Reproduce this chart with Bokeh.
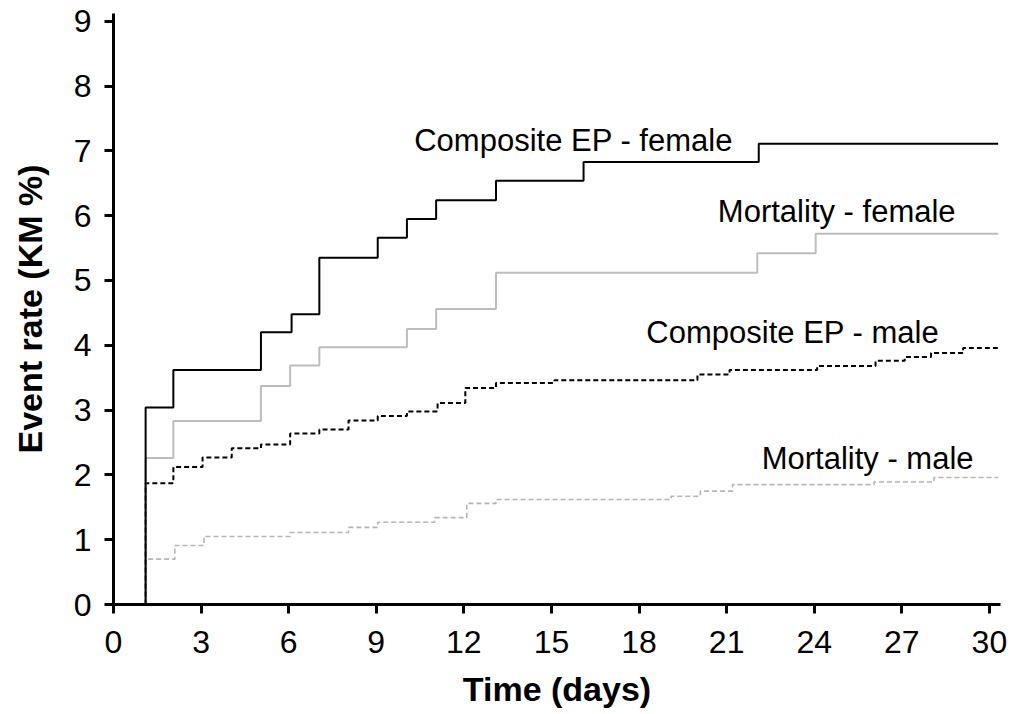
from bokeh.plotting import figure
from bokeh.models import Range1d, FixedTicker, Label
from bokeh.embed import file_html
from bokeh.resources import INLINE

# Kaplan-Meier event rates (%) at each step time (days)
comp_female_t = [0, 1.1, 2.05, 5.05, 6.1, 7.05, 9.05, 10.05, 11.05, 13.1, 16.1, 22.1, 30.3]
comp_female_v = [0, 3.04, 3.62, 4.20, 4.48, 5.35, 5.66, 5.95, 6.24, 6.54, 6.83, 7.11, 7.11]

mort_female_t = [0, 1.1, 2.05, 5.05, 6.05, 7.05, 10.05, 11.05, 13.1, 22.05, 24.05, 30.3]
mort_female_v = [0, 2.26, 2.83, 3.37, 3.69, 3.97, 4.25, 4.56, 5.12, 5.42, 5.72, 5.72]

comp_male_t = [0, 1.1, 2.05, 3.05, 4.05, 5.05, 6.05, 7.05, 8.05, 9.05, 10.05, 11.1,
               12.05, 13.1, 15.1, 20.0, 21.1, 24.1, 26.1, 27.1, 28.0, 29.1, 30.3]
comp_male_v = [0, 1.87, 2.12, 2.27, 2.41, 2.47, 2.64, 2.70, 2.84, 2.91, 2.98, 3.11,
               3.34, 3.42, 3.46, 3.55, 3.62, 3.68, 3.76, 3.82, 3.88, 3.96, 3.96]

mort_male_t = [0, 1.1, 2.1, 3.1, 6.05, 8.05, 9.05, 11.0, 12.1, 13.1, 19.1, 20.1, 21.2,
               26.05, 28.1, 30.3]
mort_male_v = [0, 0.70, 0.91, 1.05, 1.11, 1.19, 1.27, 1.34, 1.56, 1.62, 1.67, 1.75, 1.85,
               1.89, 1.96, 1.96]

x_ticks = [0, 3, 6, 9, 12, 15, 18, 21, 24, 27, 30]
y_ticks = [0, 1, 2, 3, 4, 5, 6, 7, 8, 9]

FONT = "Liberation Sans"

p = figure(width=1015, height=714, output_backend="svg", toolbar_location=None,
           x_range=Range1d(0, 30.38), y_range=Range1d(0, 9.12),
           min_border_left=113, min_border_right=15, min_border_top=13,
           min_border_bottom=110)
p.outline_line_color = None
p.grid.visible = False
p.background_fill_color = "white"
p.border_fill_color = "white"

for ax in (p.xaxis[0], p.yaxis[0]):
    ax.axis_line_width = 3
    ax.axis_line_color = "black"
    ax.major_tick_line_width = 3
    ax.major_tick_line_color = "black"
    ax.major_tick_out = 9
    ax.major_tick_in = 0
    ax.minor_tick_line_color = None
    ax.major_label_text_font = FONT
    ax.major_label_text_font_size = "32px"
    ax.major_label_text_color = "black"
    ax.axis_label_text_font = FONT
    ax.axis_label_text_font_style = "bold"
    ax.axis_label_text_font_size = "34px"
    ax.axis_label_text_color = "black"

p.xaxis.ticker = FixedTicker(ticks=x_ticks)
p.yaxis.ticker = FixedTicker(ticks=y_ticks)
p.xaxis.axis_label = "Time (days)"
p.yaxis.axis_label = "Event rate (KM %)"
p.xaxis.major_label_standoff = 17
p.yaxis.major_label_standoff = 13
p.xaxis.axis_label_standoff = 14
p.yaxis.axis_label_standoff = 22

p.step(mort_male_t, mort_male_v, mode="after", line_color="#b5b5b5", line_width=1.6,
       line_dash="5 3")
p.step(comp_male_t, comp_male_v, mode="after", line_color="black", line_width=2,
       line_dash="5 3")
p.step(mort_female_t, mort_female_v, mode="after", line_color="#bdbdbd", line_width=2)
p.step(comp_female_t, comp_female_v, mode="after", line_color="black", line_width=2)

def curve_label(text, x, y):
    p.add_layout(Label(x=x, y=y, text=text, text_font=FONT, text_font_size="31px",
                       text_color="black", text_align="left",
                       text_baseline="middle"))

curve_label("Composite EP - female", 10.3, 7.16)
curve_label("Mortality - female", 20.7, 6.06)
curve_label("Composite EP - male", 18.25, 4.2)
curve_label("Mortality - male", 22.2, 2.26)

open("out.html", "w").write(file_html(p, INLINE))
